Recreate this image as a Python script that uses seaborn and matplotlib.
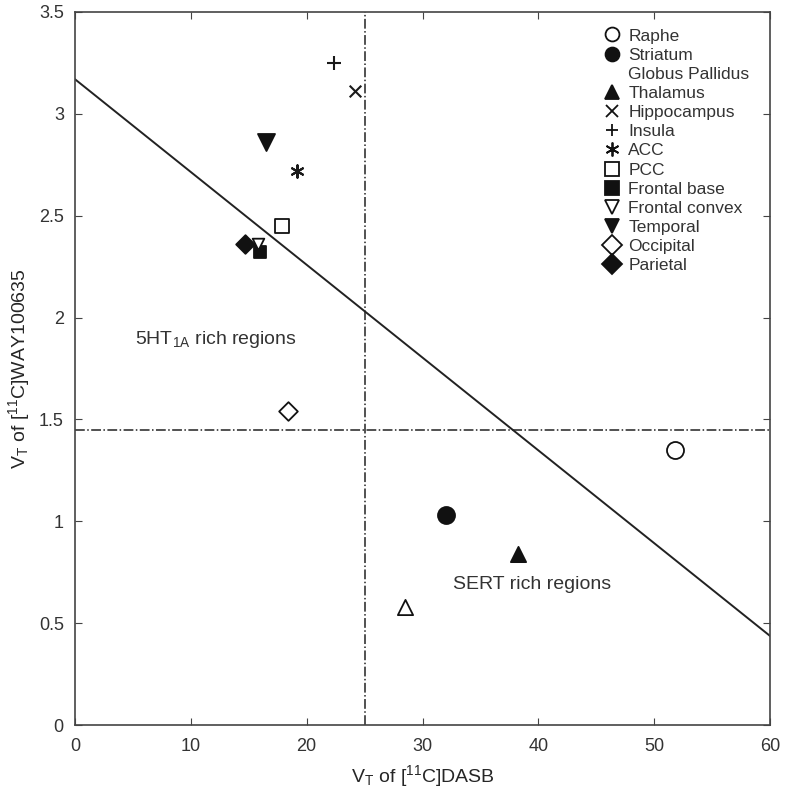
import matplotlib
matplotlib.use("Agg")
import matplotlib.pyplot as plt
from matplotlib.lines import Line2D
import seaborn as sns

sns.set_style("ticks")
plt.rcParams["font.family"] = ["Liberation Sans", "DejaVu Sans"]
plt.rcParams["mathtext.fontset"] = "custom"
plt.rcParams["mathtext.rm"] = "Liberation Sans"
plt.rcParams["mathtext.it"] = "Liberation Sans"
plt.rcParams["text.color"] = "#333333"

# data
regions = ["Raphe", "Striatum", "Globus Pallidus", "Thalamus", "Hippocampus", "Insula",
           "ACC", "PCC", "Frontal base", "Frontal convex", "Temporal", "Occipital", "Parietal"]
dasb = [51.8, 32.0, 28.5, 38.2, 24.2, 22.4, 19.2, 17.9, 16.0, 15.8, 16.5, 18.4, 14.7]
way = [1.35, 1.03, 0.58, 0.84, 3.11, 3.25, 2.72, 2.45, 2.32, 2.36, 2.86, 1.54, 2.36]
markers = ["o", "o", "^", "^", "x", "+", (6, 2, 0), "s", "s", "v", "v", "D", "D"]
filled = [False, True, False, True, True, True, True, False, True, False, True, False, True]
sizes = [150, 150, 120, 120, 70, 110, 80, 90, 80, 70, 150, 90, 90]

# fitted line and thresholds
line_x = [0, 60]
line_y = [3.17, 0.437]
x_cut = 25
y_cut = 1.45

fig = plt.figure(figsize=(7.85, 7.99), dpi=100)
ax = fig.add_axes([0.0955, 0.0926, 0.8855, 0.8924])

sns.lineplot(x=line_x, y=line_y, color="#222222", lw=1.4, ax=ax)
ax.axvline(x_cut, color="#222222", lw=1.1, ls="-.")
ax.axhline(y_cut, color="#222222", lw=1.1, ls="-.")

handles = []
for name, x, y, m, f, s in zip(regions, dasb, way, markers, filled, sizes):
    unfilled = m in ("x", "+") or isinstance(m, tuple)
    if unfilled:
        sns.scatterplot(x=[x], y=[y], marker=m, s=s, color="#1a1a1a", linewidth=1.5, ax=ax, zorder=3)
    else:
        sns.scatterplot(x=[x], y=[y], marker=m, s=s, ax=ax, zorder=3,
                        facecolor="#111111" if f else "white", edgecolor="#111111", linewidth=1.3)
    if name == "Globus Pallidus":
        handles.append(Line2D([], [], ls="none", marker="", label=name))
    else:
        handles.append(Line2D([], [], ls="none", marker=m, markersize=10 if m not in ("x", "+") else 9,
                              markerfacecolor=("#111111" if f else "white"), markeredgecolor="#111111",
                              markeredgewidth=1.3, color="#111111", label=name))

ax.text(5.2, 1.89, "5HT$_{1A}$ rich regions", fontsize=14, va="center")
ax.text(32.6, 0.69, "SERT rich regions", fontsize=14, va="center")

ax.set_xlim(0, 60)
ax.set_ylim(0, 3.5)
ax.set_xticks([0, 10, 20, 30, 40, 50, 60])
ax.set_yticks([0, 0.5, 1, 1.5, 2, 2.5, 3, 3.5])
ax.set_yticklabels(["0", "0.5", "1", "1.5", "2", "2.5", "3", "3.5"])
ax.tick_params(direction="in", top=True, right=True, labelsize=13, length=5,
               color="#444444", labelcolor="#333333")
ax.tick_params(axis="x", pad=9)
ax.tick_params(axis="y", pad=8)
for sp in ax.spines.values():
    sp.set_color("#444444")
    sp.set_linewidth(1.2)
ax.set_xlabel("V$_T$ of [$^{11}$C]DASB", fontsize=14, labelpad=6)
ax.set_ylabel("V$_T$ of [$^{11}$C]WAY100635", fontsize=14, labelpad=5)

ax.legend(handles=handles, loc="upper right", frameon=False, fontsize=12.5,
          labelspacing=0.23, handletextpad=0.45, handlelength=1.0,
          borderaxespad=0.3, bbox_to_anchor=(0.988, 0.994))

fig.savefig("out.png", dpi=100)
